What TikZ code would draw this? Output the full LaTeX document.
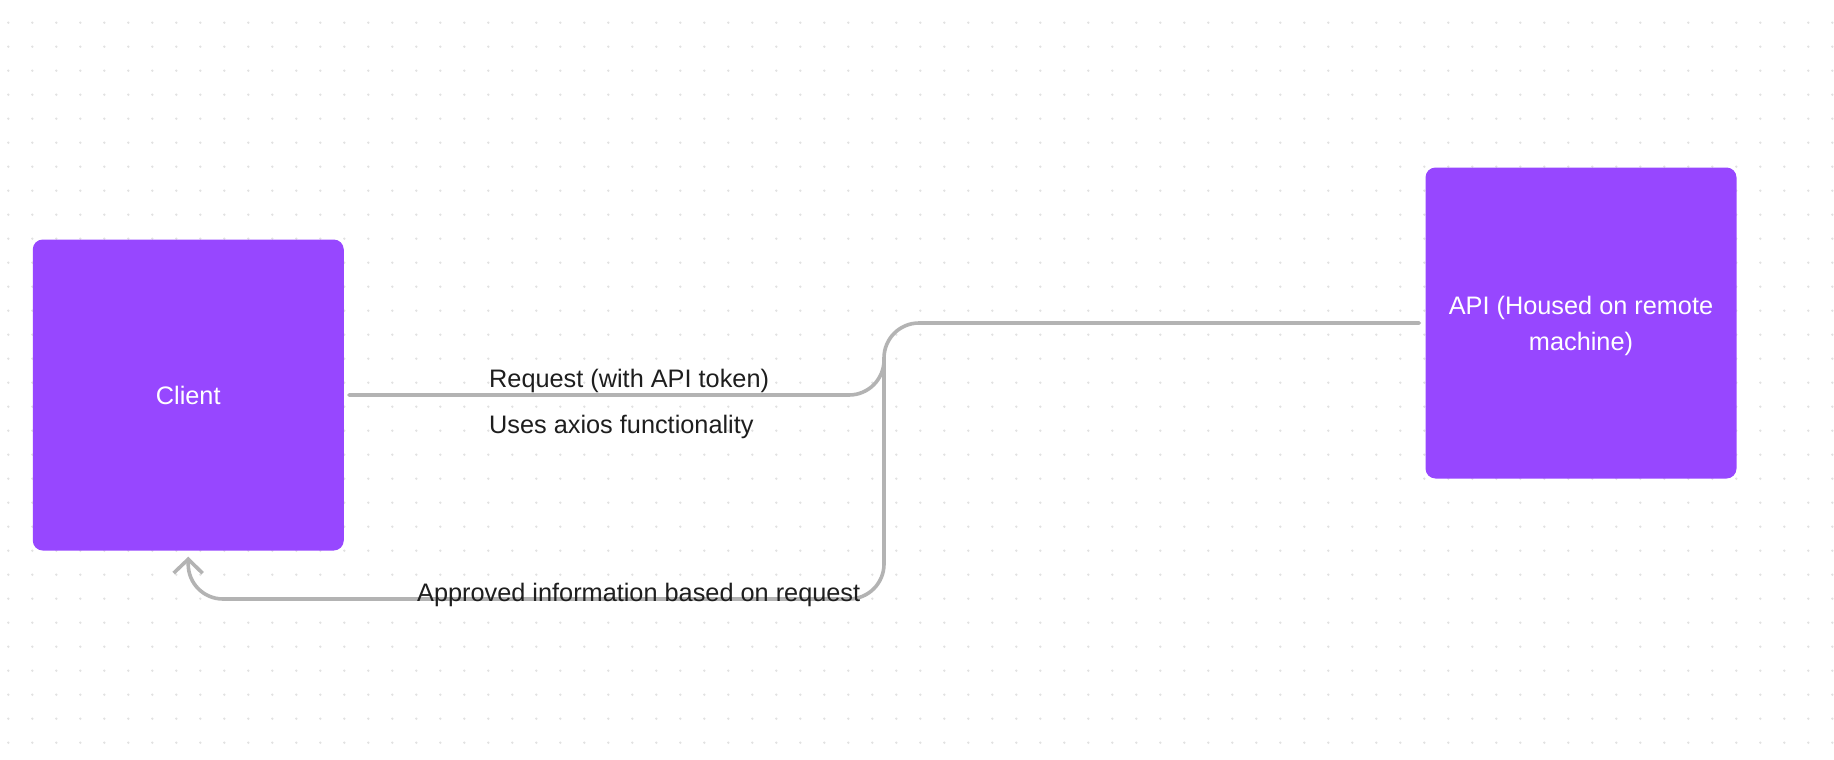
\documentclass[tikz,border=0pt]{standalone}
\usepackage{fontspec}
\setmainfont{Liberation Sans}
\usetikzlibrary{arrows.meta}
\definecolor{boxpurple}{HTML}{9747FF}
\definecolor{conngray}{HTML}{B3B3B3}
\definecolor{dotgray}{HTML}{E2E2E2}
\definecolor{txt}{HTML}{1E1E1E}
\tikzset{
  box/.style={fill=boxpurple, draw=none, rounded corners=10pt, minimum width=311pt, minimum height=311pt, inner sep=0pt},
  boxtext/.style={text=white, font=\fontsize{25.3}{36}\selectfont, align=center},
  conn/.style={draw=conngray, line width=3.6pt, rounded corners=35pt, line cap=round},
  lbl/.style={anchor=base west, inner sep=0pt, text=txt, font=\fontsize{25.3}{30}\selectfont},
}
\begin{document}
\begin{tikzpicture}[x=1pt, y=-1pt]
\useasboundingbox (0,0) rectangle (1834,760);
\fill[white] (0,0) rectangle (1834,760);
\foreach \i in {0,...,76} {
  \foreach \j in {0,...,30} {
    \fill[dotgray] ({8.3+24*\i},{22.7+24*\j}) circle (1.3);
  }
}
\node[box, label={[boxtext]center:Client}] (client) at (188.25,395) {};
\node[box, label={[boxtext, yshift=-3pt]center:{API (Housed on remote\\machine)}}] (api) at (1581,323) {};
\coordinate (c1) at (884,395);
\coordinate (c2) at (884,323);
\coordinate (jx) at (884,359);
\coordinate (c3) at (884,599);
\coordinate (rb) at (188,599);
\draw[conn] ([xshift=5pt]client.east) -- (c1) -- (c2) -- ([xshift=-6pt]api.west);
\draw[conn, -{Straight Barb[length=14pt, width=29pt]}] (jx) -- (c3) -- (rb) -- ([yshift=-6pt]client.south);
\node[lbl] (req) at (489,387) {Request (with API token)};
\node[lbl] (uses) at (489,433) {Uses axios functionality};
\node[lbl] (appr) at (417,601) {Approved information based on request};
\end{tikzpicture}
\end{document}
